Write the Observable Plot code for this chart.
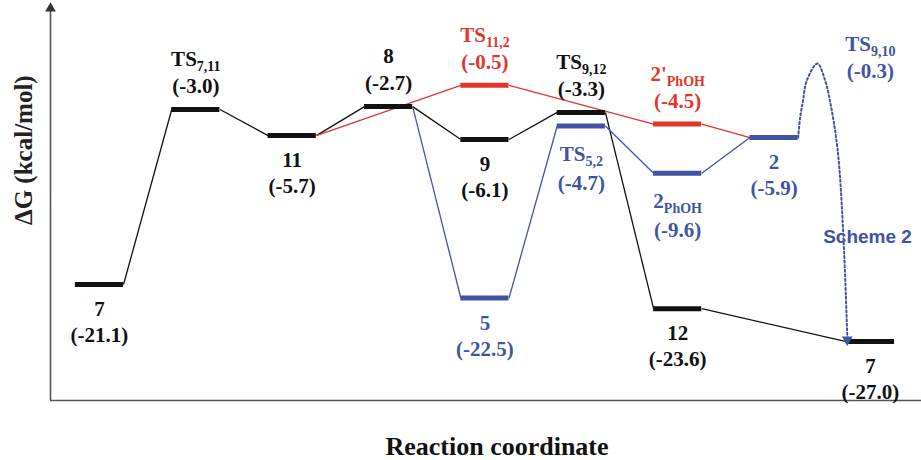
<!DOCTYPE html>
<html><head><meta charset="utf-8">
<script src="https://cdn.jsdelivr.net/npm/d3@7"></script>
<script src="https://cdn.jsdelivr.net/npm/@observablehq/plot@0.6"></script>
<style>body{margin:0;background:#fff}</style>
</head><body><div id="chart"></div>
<script>
// ---- data ----
const names      = ["7","TS|7,11","11","8","TS|11,2","9","5","TS|9,12","TS|5,2","2'|PhOH","2|PhOH","12","2","7"];
const energies   = [-21.1,-3.0,-5.7,-2.7,-0.5,-6.1,-22.5,-3.3,-4.7,-4.5,-9.6,-23.6,-5.9,-27.0];
const columns    = [0,1,2,3,4,4,4,5,5,6,6,6,7,8];
const pathways   = ["black","black","black","black","red","black","blue","black","blue","red","blue","black","blue","black"];
const labelSides = ["below","above","below","above","above","below","below","above","below","above","below","below","below","below"];
// connections: [from index, to index, pathway]
const links = [[0,1,"black"],[1,2,"black"],[2,3,"black"],[3,5,"black"],[5,7,"black"],[7,11,"black"],[11,13,"black"],
               [2,4,"red"],[4,9,"red"],[9,12,"red"],
               [3,6,"blue"],[6,8,"blue"],[8,10,"blue"],[10,12,"blue"]];
// dotted "Scheme 2" excursion through TS9,10 (column, energy)
const ts910Name = "TS|9,10", ts910Energy = -0.3, ts910Column = 8;
const curveCols = [7.25, 7.27, 7.30, 7.34, 7.45, 7.53, 7.58, 7.66, 7.72, 7.76];
const curveEs   = [-5.9, -3.9, -2.1, 0.0, 1.76, 0.0, -2.1, -7.2, -16.2, -26.6];
const schemeLabel = {text: "Scheme 2", column: 7.97, energy: -16.2};
const palette = {black: "#111111", red: "#e3352c", blue: "#4253a4"};
const axisTitles = {y: "ΔG (kcal/mol)", x: "Reaction coordinate"};

// ---- tables ----
const states = names.map((n, i) => ({name: n, energy: energies[i], col: columns[i], path: pathways[i], side: labelSides[i], label: `(${energies[i].toFixed(1)})`}));
const linkRows = links.map(([a, b, p]) => ({x1: columns[a] + 0.25, y1: energies[a], x2: columns[b] - 0.25, y2: energies[b], path: p}));
const curve = curveCols.map((c, i) => ({col: c, energy: curveEs[i]}));
const xDomain = [-0.508, 8.53], yDomain = [-33.1, 7.76];
const above = states.filter(d => d.side === "above"), below = states.filter(d => d.side === "below");
const hasSub = d => d.name.includes("|");
const col = d => palette[d.path];
const serif = "'Liberation Serif', 'Times New Roman', serif";
const sans = "'Liberation Sans', Arial, sans-serif";
const T = {fontSize: 21, fontFamily: serif, fontWeight: "bold"};

const chart = Plot.plot({
  width: 921, height: 460,
  marginLeft: 50, marginRight: 0, marginTop: 5, marginBottom: 60,
  x: {domain: xDomain, axis: null},
  y: {domain: yDomain, axis: null},
  style: {background: "white"},
  marks: [
    Plot.ruleX([xDomain[0]], {stroke: "#555", strokeWidth: 1.6}),
    Plot.ruleY([yDomain[0]], {stroke: "#555", strokeWidth: 1.6}),
    Plot.dot([{x: xDomain[0], y: yDomain[1]}], {x: "x", y: "y", symbol: "triangle", r: 4, fill: "#333", dy: 3}),
    Plot.link(linkRows, {x1: "x1", y1: "y1", x2: "x2", y2: "y2", stroke: col, strokeWidth: 1.3}),
    Plot.ruleY(states, {x1: d => d.col - 0.25, x2: d => d.col + 0.25, y: "energy", stroke: col, strokeWidth: 5}),
    Plot.line(curve, {x: "col", y: "energy", curve: "catmull-rom", stroke: palette.blue, strokeWidth: 2, strokeDasharray: "2,2.5"}),
    Plot.dot([curve[curve.length - 1]], {x: "col", y: "energy", symbol: "triangle", r: 4, fill: palette.blue, rotate: 180, dy: 2}),
    Plot.text(above, {x: "col", y: "energy", text: "name", fill: col, dy: -50, ...T}),
    Plot.text(above, {x: "col", y: "energy", text: "label", fill: col, dy: -23, ...T}),
    Plot.text(below.filter(d => !hasSub(d)), {x: "col", y: "energy", text: "name", fill: col, dy: 25, ...T}),
    Plot.text(below.filter(d => !hasSub(d)), {x: "col", y: "energy", text: "label", fill: col, dy: 51, ...T}),
    Plot.text(below.filter(hasSub), {x: "col", y: "energy", text: "name", fill: col, dy: 28, ...T}),
    Plot.text(below.filter(hasSub), {x: "col", y: "energy", text: "label", fill: col, dy: 57, ...T}),
    Plot.text([ts910Name], {x: ts910Column, y: ts910Energy, text: d => d, fill: palette.blue, dy: -39, ...T}),
    Plot.text([`(${ts910Energy.toFixed(1)})`], {x: ts910Column, y: ts910Energy, text: d => d, fill: palette.blue, dy: -12, ...T}),
    Plot.text([schemeLabel], {x: "column", y: "energy", text: "text", fill: palette.blue, fontSize: 19, fontWeight: "bold", fontFamily: sans}),
    Plot.text([axisTitles.y], {frameAnchor: "left", lineAnchor: "middle", dx: -27, dy: 22, rotate: -90, text: d => d, fill: "#222", ...T, fontSize: 25}),
    Plot.text([axisTitles.x], {frameAnchor: "bottom", lineAnchor: "middle", dy: 46, dx: 11, text: d => d, fill: "#111", ...T, fontSize: 26})
  ]
});

// subscripts: "base|sub"
d3.select(chart).selectAll("text").each(function () {
  const t = this.textContent;
  if (!t.includes("|")) return;
  const [base, sub] = t.split("|");
  const sel = d3.select(this);
  sel.text(null);
  sel.append("tspan").text(base);
  sel.append("tspan").attr("font-size", 14).attr("dy", 5).text(sub);
});
document.getElementById("chart").appendChild(chart);
</script>
</body></html>
